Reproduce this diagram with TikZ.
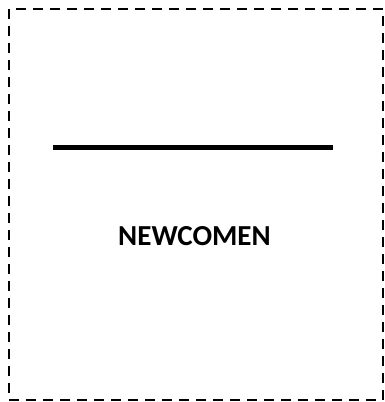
\documentclass[tikz,border=0pt]{standalone}
\usepackage{fontspec}
\setmainfont{Carlito}
\usetikzlibrary{positioning}
\tikzset{
  framebox/.style={draw,line width=2.2pt,dash pattern=on 10pt off 7pt,minimum width=374pt,minimum height=391pt,inner sep=0pt},
  namelabel/.style={font=\fontsize{29}{33}\selectfont\bfseries}
}
\begin{document}
\begin{tikzpicture}[x=1pt,y=-1pt]
  \useasboundingbox (0,0) rectangle (384,402);
  \node[framebox] (frame) at (196,204.5) {};
  \coordinate (barl) at (53,147);
  \coordinate (barr) at (333,147);
  \draw[line width=5pt] (barl)--(barr);
  \node[namelabel] (name) at (194.5,236) {NEWCOMEN};
\end{tikzpicture}
\end{document}
